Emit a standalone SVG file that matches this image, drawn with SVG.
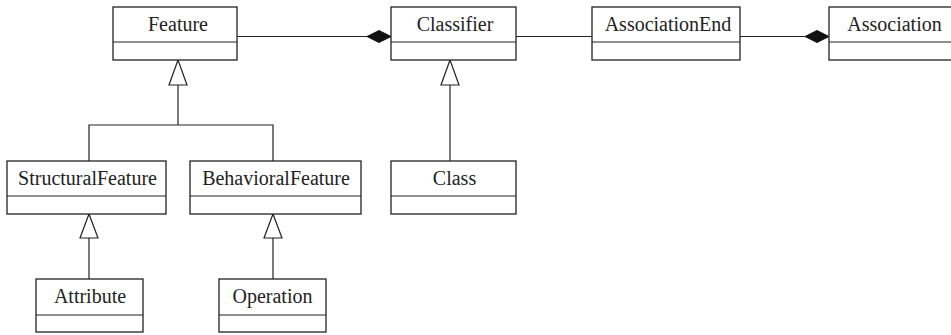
<svg xmlns="http://www.w3.org/2000/svg" width="951" height="335" viewBox="0 0 951 335">
  <style>
    .box { fill: #fff; stroke: #222; stroke-width: 1.3; }
    .div { stroke: #222; stroke-width: 1.2; }
    .lbl { font-family: "Liberation Serif", "Times New Roman", serif; font-size: 20px; fill: #222; text-anchor: middle; }
    .ln { fill: none; stroke: #222; stroke-width: 1.2; }
    .gen { fill: #fff; stroke: #222; stroke-width: 1.2; }
    .comp { fill: #111; stroke: #111; stroke-width: 1; }
  </style>
  <rect width="951" height="335" fill="#fff"/>

  <!-- connectors -->
  <g id="connectors">
    <!-- composition: Feature -> Classifier -->
    <line class="ln" x1="237" y1="36.5" x2="368" y2="36.5"/>
    <polygon class="comp" points="367,36.5 379,30.5 391,36.5 379,42.5"/>
    <!-- association: Classifier - AssociationEnd -->
    <line class="ln" x1="516" y1="36.5" x2="592" y2="36.5"/>
    <!-- composition: AssociationEnd -> Association -->
    <line class="ln" x1="740" y1="36.5" x2="806" y2="36.5"/>
    <polygon class="comp" points="805,36.5 817,30.5 829,36.5 817,42.5"/>

    <!-- generalization: StructuralFeature, BehavioralFeature -> Feature -->
    <polyline class="ln" points="89,161 89,125 273,125 273,161"/>
    <line class="ln" x1="178" y1="85" x2="178" y2="125"/>
    <polygon class="gen" points="178,60 169,85 187,85"/>

    <!-- generalization: Class -> Classifier -->
    <line class="ln" x1="450" y1="85" x2="450" y2="161"/>
    <polygon class="gen" points="450,60 441,85 459,85"/>

    <!-- generalization: Attribute -> StructuralFeature -->
    <line class="ln" x1="89" y1="238" x2="89" y2="279"/>
    <polygon class="gen" points="89,214 80,238 98,238"/>

    <!-- generalization: Operation -> BehavioralFeature -->
    <line class="ln" x1="273" y1="238" x2="273" y2="279"/>
    <polygon class="gen" points="273,214 264,238 282,238"/>
  </g>

  <g id="Feature">
    <rect class="box" x="113" y="7" width="124" height="53"/>
    <line class="div" x1="113" y1="42" x2="237" y2="42"/>
    <text class="lbl" x="178" y="31">Feature</text>
  </g>

  <g id="Classifier">
    <rect class="box" x="391" y="7" width="125" height="53"/>
    <line class="div" x1="391" y1="42" x2="516" y2="42"/>
    <text class="lbl" x="455" y="31">Classifier</text>
  </g>

  <g id="AssociationEnd">
    <rect class="box" x="592" y="7" width="148" height="53"/>
    <line class="div" x1="592" y1="42" x2="740" y2="42"/>
    <text class="lbl" x="668" y="31">AssociationEnd</text>
  </g>

  <g id="Association">
    <rect class="box" x="829" y="7" width="131" height="53"/>
    <line class="div" x1="829" y1="42" x2="960" y2="42"/>
    <text class="lbl" x="894.5" y="31">Association</text>
  </g>

  <g id="StructuralFeature">
    <rect class="box" x="7" y="161" width="159" height="53"/>
    <line class="div" x1="7" y1="196" x2="166" y2="196"/>
    <text class="lbl" x="87.5" y="185">StructuralFeature</text>
  </g>

  <g id="BehavioralFeature">
    <rect class="box" x="190" y="161" width="171" height="53"/>
    <line class="div" x1="190" y1="196" x2="361" y2="196"/>
    <text class="lbl" x="276" y="185">BehavioralFeature</text>
  </g>

  <g id="Class">
    <rect class="box" x="391" y="161" width="125" height="53"/>
    <line class="div" x1="391" y1="196" x2="516" y2="196"/>
    <text class="lbl" x="454.5" y="185">Class</text>
  </g>

  <g id="Attribute">
    <rect class="box" x="36" y="279" width="107" height="53"/>
    <line class="div" x1="36" y1="315" x2="143" y2="315"/>
    <text class="lbl" x="90" y="303">Attribute</text>
  </g>

  <g id="Operation">
    <rect class="box" x="219" y="279" width="107" height="53"/>
    <line class="div" x1="219" y1="315" x2="326" y2="315"/>
    <text class="lbl" x="272.5" y="303">Operation</text>
  </g>
</svg>
